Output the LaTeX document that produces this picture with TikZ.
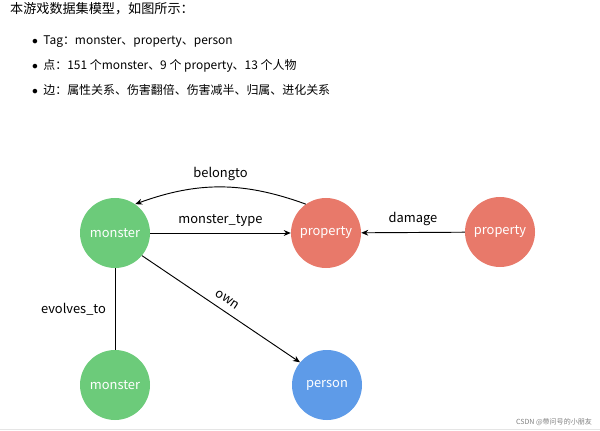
\documentclass[tikz,border=0pt]{standalone}
\usepackage{fontspec}
\setmainfont{Noto Sans CJK SC}
\usetikzlibrary{arrows.meta}
\definecolor{mgreen}{HTML}{6CCB7A}
\definecolor{pred}{HTML}{E8796A}
\definecolor{pblue}{HTML}{5E9BE8}
\begin{document}
\begin{tikzpicture}[
x=0.03cm, y=-0.03cm,
every node/.style = {font=\fontsize{11}{13}\selectfont},
vertex/.style = {circle, minimum size=2.1cm, inner sep=0pt, text=white},
rel/.style = {-{Stealth[length=6pt,width=5pt]}, thick},
]
  \useasboundingbox (0,0) rectangle (600,431);
  % intro text
  \node[anchor=west, font=\fontsize{11.2}{14}\selectfont] (title) at (6,9) {本游戏数据集模型，如图所示：};
  \node[anchor=west, font=\fontsize{10.2}{12}\selectfont] (tag) at (28,42) {$\bullet$\ \ Tag：monster、property、person};
  \node[anchor=west, font=\fontsize{10.2}{12}\selectfont] (pts) at (28,66) {$\bullet$\ \ 点：151 个monster、9 个 property、13 个人物};
  \node[anchor=west, font=\fontsize{10.2}{12}\selectfont] (edges) at (28,90) {$\bullet$\ \ 边：属性关系、伤害翻倍、伤害减半、归属、进化关系};
  % graph
  \node[vertex, fill=mgreen] (monster) at (115,233) {monster};
  \node[vertex, fill=pred] (property) at (326,233) {property};
  \node[vertex, fill=pred] (property2) at (500,232) {property};
  \node[vertex, fill=mgreen] (monster2) at (115,385) {monster};
  \node[vertex, fill=pblue] (person) at (327,385) {person};
  \draw[rel] (property.125) to[bend right=20] node[above=2pt, text=black] {belongto} (monster.55);
  \draw[rel] (monster) -- node[above=2pt] {monster\_type} (property);
  \draw[rel] (property2) -- node[above=2pt] {damage} (property);
  \draw[thick] (monster) -- node[left=4pt] {evolves\_to} (monster2);
  \draw[rel] (monster.-40) -- node[above=3pt, sloped] {own} (person.140);
  % watermark
  \node[anchor=east, font=\fontsize{6}{7}\selectfont, text=gray] (mark) at (596,422) {CSDN @带问号的小朋友};
  \draw[black!10] (0,429) -- (600,429);
\end{tikzpicture}
\end{document}
